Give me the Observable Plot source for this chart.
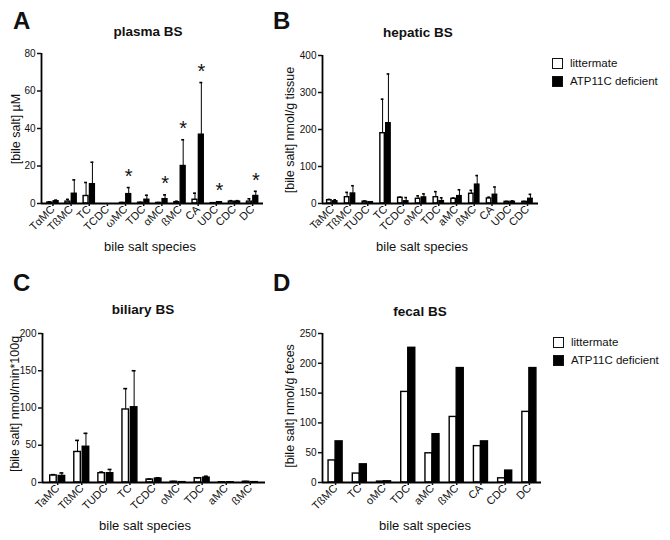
<!DOCTYPE html>
<html><head><meta charset="utf-8">
<script src="https://cdn.jsdelivr.net/npm/d3@7"></script>
<script src="https://cdn.jsdelivr.net/npm/@observablehq/plot@0.6"></script>
<style>
body{margin:0;background:#fff;font-family:"Liberation Sans",Arial,sans-serif;}
#root{position:relative;width:670px;height:540px;overflow:hidden;background:#fff;}
#root svg{position:absolute;}
.abs{position:absolute;white-space:nowrap;color:#111;line-height:1;}
</style></head><body><div id="root"></div>
<script>
// ---- Panel A: plasma BS (µM), mean and SD ----
const plasmaSpecies = ["TαMC","TßMC","TC","TCDC","ωMC","TDC","αMC","ßMC","CA","UDC","CDC","DC"];
const plasmaLit   = [0.5, 1.0, 4.0, 0, 0.3, 0.4, 0.3, 0.7, 2.0, 0.2, 1.0, 1.0];
const plasmaLitSD = [0.4, 1.2, 7.2, 0, 0.2, 0.2, 0.2, 0.5, 3.5, 0.1, 0.5, 1.5];
const plasmaKo    = [1.2, 5.2, 10.3, 0, 5.0, 2.0, 2.3, 20.0, 36.7, 0.7, 1.0, 4.0];
const plasmaKoSD  = [0.6, 7.4, 11.7, 0, 3.5, 2.4, 2.3, 14.0, 27.8, 0.2, 0.5, 2.5];
const plasmaSig   = ["ωMC","αMC","ßMC","CA","UDC","DC"];
const plasmaTicks = [0, 20, 40, 60, 80];

// ---- Panel B: hepatic BS (nmol/g tissue) ----
const hepaticSpecies = ["TaMC","TßMC","TUDC","TC","TCDC","oMC","TDC","aMC","ßMC","CA","UDC","CDC"];
const hepaticLit   = [9, 17, 5, 190, 15.5, 12.7, 17, 12.7, 26.4, 13.6, 4.5, 4.5];
const hepaticLitSD = [2, 13, 1.5, 92, 1.5, 8, 15, 2, 9, 3.4, 1, 1];
const hepaticKo    = [6, 27, 3.6, 217, 6, 16.4, 6.4, 20, 51, 23.6, 4.5, 12.7];
const hepaticKoSD  = [4, 21, 1, 133, 10, 9.6, 9, 17, 24.5, 21, 2.5, 12];
const hepaticTicks = [0, 100, 200, 300, 400];

// ---- Panel C: biliary BS (nmol/min*100g) ----
const biliarySpecies = ["TaMC","TßMC","TUDC","TC","TCDC","oMC","TDC","aMC","ßMC"];
const biliaryLit   = [9.5, 41, 12.5, 98, 4, 1, 5.8, 0.3, 1];
const biliaryLitSD = [1, 15.5, 1.5, 28, 0.5, 0.3, 0.5, 0.1, 0.3];
const biliaryKo    = [8.8, 48, 12.5, 101, 5.3, 0.5, 6.6, 0.3, 0.5];
const biliaryKoSD  = [4, 18, 5, 49, 1, 0.2, 1.8, 0.1, 0.2];
const biliaryTicks = [0, 50, 100, 150, 200];

// ---- Panel D: fecal BS (nmol/g feces) ----
const fecalSpecies = ["TßMC","TC","oMC","TDC","aMC","ßMC","CA","CDC","DC"];
const fecalLit = [37, 15, 1.5, 152, 49, 110, 61, 7, 118.5];
const fecalKo  = [69, 30.5, 2, 226, 81, 192, 69, 20, 192];
const fecalTicks = [0, 50, 100, 150, 200, 250];

const root = document.getElementById("root");

function panel(cfg) {
  const {species, lit, litSD, ko, koSD, sig, ticks, xDomain, left, top, width, height,
         marginLeft, marginRight, marginTop, marginBottom, barW, gap, ebars} = cfg;
  const rows = species.map((s, i) => ({s, i, lit: lit[i], ko: ko[i],
    litSD: litSD ? litSD[i] : 0, koSD: koSD ? koSD[i] : 0}));
  const litC = i => i - gap / 2 - barW / 2;
  const koC = i => i + gap / 2 + barW / 2;
  const cap = barW * 0.3;
  const marks = [
    Plot.rectY(rows, {x1: d => litC(d.i) - barW / 2, x2: d => litC(d.i) + barW / 2, y: "lit",
      fill: "white", stroke: "black", strokeWidth: 1.4}),
    Plot.rectY(rows, {x1: d => koC(d.i) - barW / 2, x2: d => koC(d.i) + barW / 2, y: "ko",
      fill: "black", stroke: "black", strokeWidth: 1.4})
  ];
  if (ebars) {
    const le = rows.filter(d => d.litSD > 0), ke = rows.filter(d => d.koSD > 0);
    marks.push(
      Plot.ruleX(le, {x: d => litC(d.i), y1: "lit", y2: d => d.lit + d.litSD, stroke: "black", strokeWidth: 1}),
      Plot.ruleY(le, {y: d => d.lit + d.litSD, x1: d => litC(d.i) - cap, x2: d => litC(d.i) + cap, stroke: "black", strokeWidth: 1.6}),
      Plot.ruleX(ke, {x: d => koC(d.i), y1: "ko", y2: d => d.ko + d.koSD, stroke: "black", strokeWidth: 1}),
      Plot.ruleY(ke, {y: d => d.ko + d.koSD, x1: d => koC(d.i) - cap, x2: d => koC(d.i) + cap, stroke: "black", strokeWidth: 1.6})
    );
  }
  if (sig) {
    marks.push(Plot.text(rows.filter(d => sig.includes(d.s)), {
      x: d => koC(d.i), y: d => d.ko + d.koSD, text: () => "*", dy: -11,
      fontSize: 20, fill: "#111", textAnchor: "middle"}));
  }
  marks.push(
    Plot.ruleY([0], {stroke: "black", strokeWidth: 1.8}),
    Plot.ruleX([xDomain[0]], {stroke: "black", strokeWidth: 1.8}),
    Plot.axisY({ticks, tickSize: 4, tickPadding: 2, label: null, strokeWidth: 1.5, fontSize: 10, fill: "#111"}),
    Plot.axisX({ticks: d3.range(species.length), tickFormat: i => species[i], tickRotate: -45,
      tickSize: 3, tickPadding: 1, label: null, strokeWidth: 1.5, fontSize: 11, fill: "#111"})
  );
  const svg = Plot.plot({
    width, height, marginLeft, marginRight, marginTop, marginBottom,
    style: {background: "transparent", fontSize: "10px", fontFamily: "'Liberation Sans', Arial, sans-serif", color: "#111", overflow: "visible"},
    x: {type: "linear", domain: xDomain},
    y: {domain: [ticks[0], ticks[ticks.length - 1]]},
    marks
  });
  svg.style.left = left + "px";
  svg.style.top = top + "px";
  root.appendChild(svg);
}

function label(text, x, y, o = {}) {
  const d = document.createElement("div");
  d.className = "abs";
  d.textContent = text;
  d.style.left = x + "px";
  d.style.top = y + "px";
  d.style.fontSize = (o.size || 13) + "px";
  d.style.fontWeight = o.bold ? "bold" : "normal";
  d.style.transform = o.anchorLeft ? "translate(0,-50%)" : `translate(-50%,-50%)${o.rotate ? " rotate(-90deg)" : ""}`;
  root.appendChild(d);
}
function legend(x, y) {
  const items = [["littermate", "white"], ["ATP11C deficient", "black"]];
  items.forEach(([t, f], k) => {
    const sq = document.createElement("div");
    sq.className = "abs";
    Object.assign(sq.style, {left: x + "px", top: (y + k * 18 - 5) + "px", width: "9px", height: "9px",
      border: "1.5px solid #111", background: f});
    root.appendChild(sq);
    label(t, x + 18, y + k * 18 + 1, {size: 11.5, anchorLeft: true});
  });
}

panel({species: plasmaSpecies, lit: plasmaLit, litSD: plasmaLitSD, ko: plasmaKo, koSD: plasmaKoSD,
  sig: plasmaSig, ticks: plasmaTicks, xDomain: [-0.63, 11.6], ebars: true,
  left: 0, top: 0, width: 285, height: 250, marginLeft: 41, marginRight: 22, marginTop: 53, marginBottom: 47,
  barW: 0.27, gap: 0.08});
panel({species: hepaticSpecies, lit: hepaticLit, litSD: hepaticLitSD, ko: hepaticKo, koSD: hepaticKoSD,
  ticks: hepaticTicks, xDomain: [-0.55, 11.62], ebars: true,
  left: 280, top: 0, width: 270, height: 250, marginLeft: 42, marginRight: 12, marginTop: 55, marginBottom: 47,
  barW: 0.25, gap: 0.08});
panel({species: biliarySpecies, lit: biliaryLit, litSD: biliaryLitSD, ko: biliaryKo, koSD: biliaryKoSD,
  ticks: biliaryTicks, xDomain: [-0.63, 8.63], ebars: true,
  left: 0, top: 260, width: 280, height: 270, marginLeft: 42, marginRight: 15, marginTop: 73, marginBottom: 48,
  barW: 0.27, gap: 0.08});
panel({species: fecalSpecies, lit: fecalLit, ko: fecalKo,
  ticks: fecalTicks, xDomain: [-0.54, 8.5], ebars: false,
  left: 280, top: 260, width: 270, height: 270, marginLeft: 42, marginRight: 9, marginTop: 73, marginBottom: 48,
  barW: 0.29, gap: 0.0});

// panel letters and titles
label("A", 13, 21, {size: 24, bold: true, anchorLeft: true});
label("B", 273, 21, {size: 24, bold: true, anchorLeft: true});
label("C", 13, 283, {size: 24, bold: true, anchorLeft: true});
label("D", 273, 283, {size: 24, bold: true, anchorLeft: true});
label("plasma BS", 148, 32, {size: 13.5, bold: true});
label("hepatic BS", 418, 33, {size: 13.5, bold: true});
label("biliary BS", 143, 310, {size: 13.5, bold: true});
label("fecal BS", 420, 312, {size: 13.5, bold: true});
label("[bile salt] µM", 16, 129, {size: 12.5, rotate: true});
label("[bile salt] nmol/g tissue", 290, 130, {size: 12.5, rotate: true});
label("[bile salt] nmol/min*100g", 15, 404, {size: 12.5, rotate: true});
label("[bile salt] nmol/g feces", 290, 406, {size: 12.5, rotate: true});
label("bile salt species", 150, 246, {size: 13});
label("bile salt species", 422, 246, {size: 13});
label("bile salt species", 145, 525, {size: 13});
label("bile salt species", 425, 525, {size: 13});
legend(552, 63);
legend(553, 342);
</script></body></html>
